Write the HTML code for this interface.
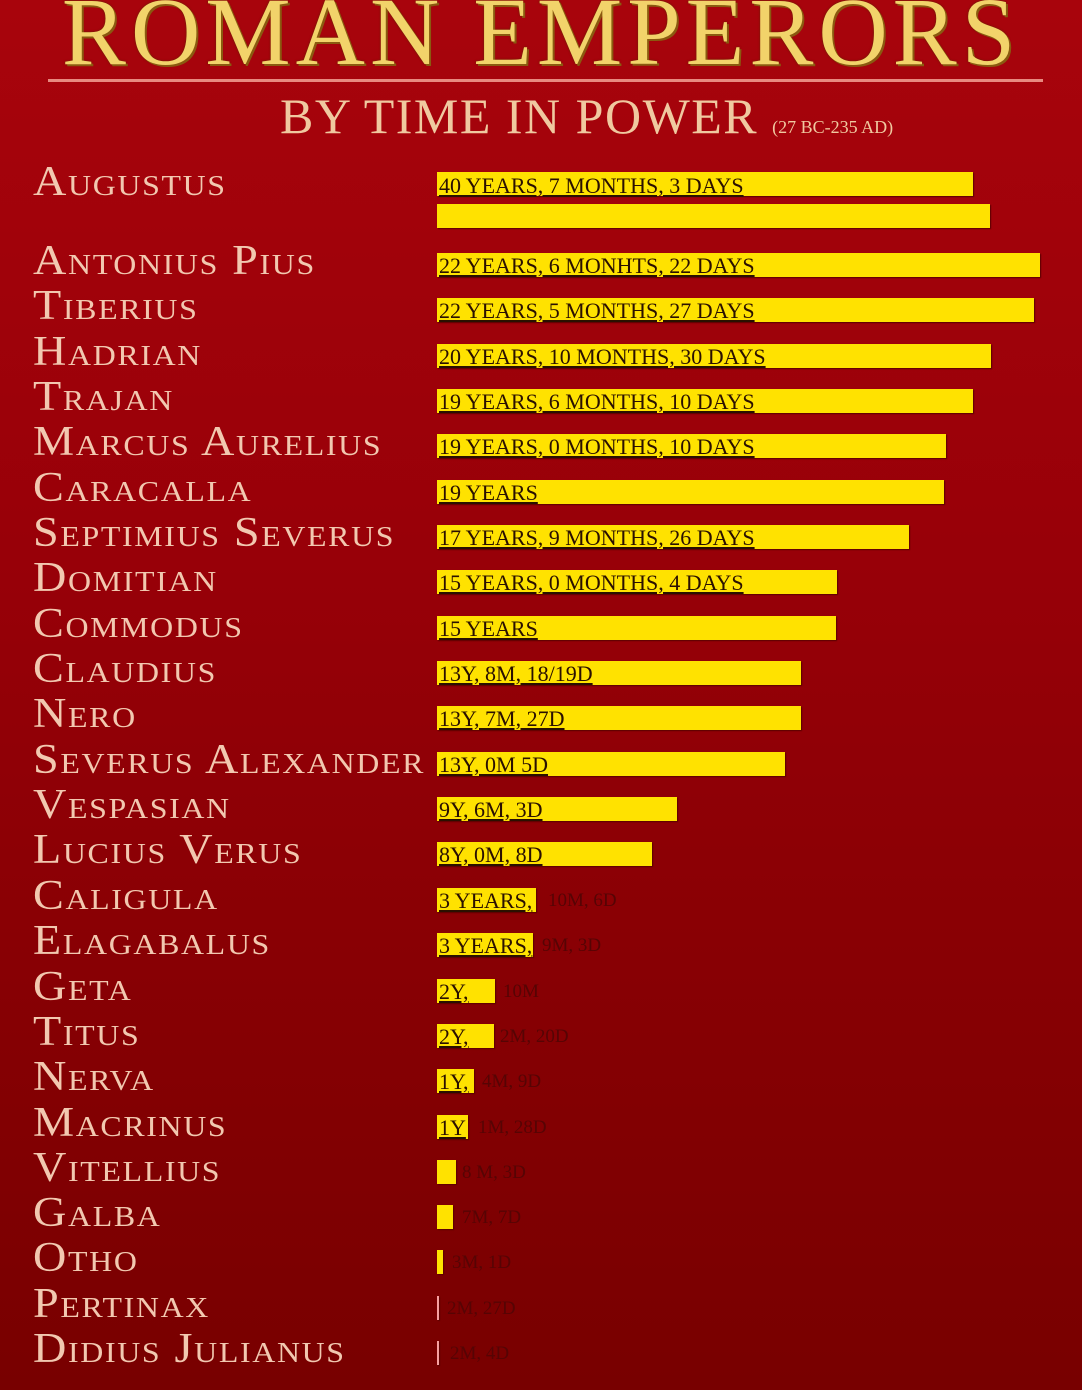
<!DOCTYPE html>
<html><head><meta charset="utf-8"><style>
html,body{margin:0;padding:0}
body{width:1082px;height:1390px;overflow:hidden;position:relative;background:linear-gradient(180deg,#a8040c 0%,#980008 40%,#850003 75%,#780000 100%);font-family:"Liberation Serif",serif}
.t{position:absolute;left:0;top:-18px;width:1082px;text-align:center;font-size:96px;color:#f2d36a;text-shadow:2px 2px 0 #8a5a10,0 0 2px #5a2a00;letter-spacing:5px;line-height:100px}
.line{position:absolute;left:48px;top:79px;width:995px;height:3px;background:#e88a80}
.sub{position:absolute;left:280px;top:88px;font-size:50px;color:#f0c9a0;line-height:56px;white-space:nowrap;letter-spacing:1.5px}
.sub small{font-size:18px;letter-spacing:0}
.n{position:absolute;left:33px;font-size:42px;font-variant:small-caps;color:#f2c8b0;line-height:40px;white-space:nowrap;letter-spacing:1.5px;transform:scaleX(1.1);transform-origin:0 0}
.b{position:absolute;left:437px;height:24px;background:#ffe200;box-shadow:1px 1px 1px #5a0000}
.l{position:absolute;left:439px;font-size:22px;text-transform:uppercase;color:#2a1000;text-decoration:underline;line-height:24px;white-space:nowrap}
.f{position:absolute;font-size:19px;text-transform:uppercase;color:#560404;line-height:24px;white-space:nowrap}
</style></head><body>
<div class="t">ROMAN EMPERORS</div>
<div class="line"></div>
<div class="sub">BY TIME IN POWER <small>(27 BC-235 AD)</small></div>

<div class="n" style="top:162px">Augustus</div>
<div class="b" style="top:172px;width:536px"></div><div class="l" style="top:174px">40 years, 7 months, 3 days</div>
<div class="b" style="top:204px;width:553px"></div>

<div class="n" style="top:241px">Antonius Pius</div><div class="b" style="top:253px;width:603px"></div><div class="l" style="top:254px">22 years, 6 monhts, 22 days</div>
<div class="n" style="top:286px">Tiberius</div><div class="b" style="top:298px;width:597px"></div><div class="l" style="top:299px">22 years, 5 months, 27 days</div>
<div class="n" style="top:332px">Hadrian</div><div class="b" style="top:344px;width:554px"></div><div class="l" style="top:345px">20 years, 10 months, 30 days</div>
<div class="n" style="top:377px">Trajan</div><div class="b" style="top:389px;width:536px"></div><div class="l" style="top:390px">19 years, 6 months, 10 days</div>
<div class="n" style="top:422px">Marcus Aurelius</div><div class="b" style="top:434px;width:509px"></div><div class="l" style="top:435px">19 years, 0 months, 10 days</div>
<div class="n" style="top:468px">Caracalla</div><div class="b" style="top:480px;width:507px"></div><div class="l" style="top:481px">19 years</div>
<div class="n" style="top:513px">Septimius Severus</div><div class="b" style="top:525px;width:472px"></div><div class="l" style="top:526px">17 years, 9 months, 26 days</div>
<div class="n" style="top:558px">Domitian</div><div class="b" style="top:570px;width:400px"></div><div class="l" style="top:571px">15 years, 0 months, 4 days</div>
<div class="n" style="top:604px">Commodus</div><div class="b" style="top:616px;width:399px"></div><div class="l" style="top:617px">15 years</div>
<div class="n" style="top:649px">Claudius</div><div class="b" style="top:661px;width:364px"></div><div class="l" style="top:662px">13y, 8m, 18/19d</div>
<div class="n" style="top:694px">Nero</div><div class="b" style="top:706px;width:364px"></div><div class="l" style="top:707px">13y, 7m, 27d</div>
<div class="n" style="top:740px">Severus Alexander</div><div class="b" style="top:752px;width:348px"></div><div class="l" style="top:753px">13y, 0m 5d</div>
<div class="n" style="top:785px">Vespasian</div><div class="b" style="top:797px;width:240px"></div><div class="l" style="top:798px">9y, 6m, 3d</div>
<div class="n" style="top:830px">Lucius Verus</div><div class="b" style="top:842px;width:215px"></div><div class="l" style="top:843px">8y, 0m, 8d</div>
<div class="n" style="top:876px">Caligula</div><div class="b" style="top:888px;width:99px"></div><div class="l" style="top:889px">3 years,</div><div class="f" style="left:548px;top:889px">10m, 6d</div>
<div class="n" style="top:921px">Elagabalus</div><div class="b" style="top:933px;width:96px"></div><div class="l" style="top:934px">3 years,</div><div class="f" style="left:542px;top:934px">9m, 3d</div>
<div class="n" style="top:967px">Geta</div><div class="b" style="top:979px;width:58px"></div><div class="l" style="top:980px">2y,</div><div class="f" style="left:503px;top:980px">10m</div>
<div class="n" style="top:1012px">Titus</div><div class="b" style="top:1024px;width:57px"></div><div class="l" style="top:1025px">2y,</div><div class="f" style="left:500px;top:1025px">2m, 20d</div>
<div class="n" style="top:1057px">Nerva</div><div class="b" style="top:1069px;width:37px"></div><div class="l" style="top:1070px">1y,</div><div class="f" style="left:482px;top:1070px">4m, 9d</div>
<div class="n" style="top:1103px">Macrinus</div><div class="b" style="top:1115px;width:31px"></div><div class="l" style="top:1116px">1y</div><div class="f" style="left:478px;top:1116px">1m, 28d</div>
<div class="n" style="top:1148px">Vitellius</div><div class="b" style="top:1160px;width:19px"></div><div class="f" style="left:462px;top:1161px">8 m, 3d</div>
<div class="n" style="top:1193px">Galba</div><div class="b" style="top:1205px;width:16px"></div><div class="f" style="left:462px;top:1206px">7m, 7d</div>
<div class="n" style="top:1238px">Otho</div><div class="b" style="top:1250px;width:6px"></div><div class="f" style="left:452px;top:1251px">3m, 1d</div>
<div class="n" style="top:1284px">Pertinax</div><div class="b" style="top:1296px;width:2px;background:#f8a0a0"></div><div class="f" style="left:447px;top:1297px">2m, 27d</div>
<div class="n" style="top:1329px">Didius Julianus</div><div class="b" style="top:1341px;width:2px;background:#f8a0a0"></div><div class="f" style="left:450px;top:1342px">2m, 4d</div>
</body></html>
